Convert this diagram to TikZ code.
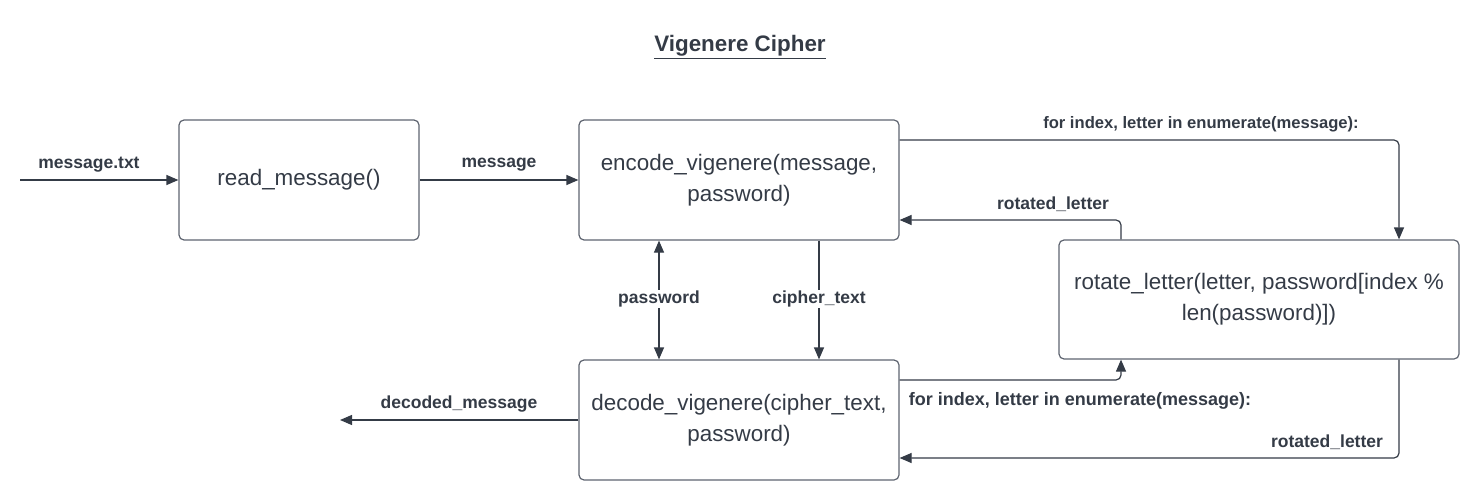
\documentclass[tikz,border=0pt]{standalone}
\usepackage{fontspec}
\setmainfont{Liberation Sans}
\usetikzlibrary{arrows.meta,calc}
\definecolor{ink}{HTML}{343B46}
\definecolor{edge}{HTML}{5E6470}
\tikzset{
  box/.style={draw=edge, line width=1.2pt, rounded corners=5pt, align=center, text=ink,
    font=\fontsize{22.4}{31}\selectfont, inner sep=0pt},
  arr/.style={draw=ink, line width=1.2pt, rounded corners=5pt, -{Triangle[length=12pt,width=10pt]}},
  lbl/.style={text=ink, font=\fontsize{17.5}{20}\selectfont\bfseries, inner sep=1pt},
}
\begin{document}
\begin{tikzpicture}[x=1pt,y=-1pt]
\useasboundingbox (0,0) rectangle (1480,500);
\node[text=ink, font=\fontsize{22.4}{26}\selectfont\bfseries] (title) at (740,47) {\underline{Vigenere Cipher}};
\node[box, minimum width=240pt, minimum height=120pt] (read) at (299,180) {read\_message()};
\node[box, minimum width=320pt, minimum height=120pt] (enc) at (739,180) {encode\_vigenere(message,\\password)};
\node[box, minimum width=400pt, minimum height=119pt] (rot) at (1259,299.5) {rotate\_letter(letter, password[index \%\\len(password)])};
\node[box, minimum width=320pt, minimum height=120pt] (dec) at (739,420) {decode\_vigenere(cipher\_text,\\password)};
\coordinate (src) at (20,180);
\coordinate (sink) at (340,420);
\draw[arr] (src) -- (read.west);
\draw[arr] (read.east) -- (enc.west);
\draw[arr] (enc.east |- 0,140) -| ([xshift=140pt]rot.north);
\draw[arr] ([xshift=-138pt]rot.north) |- (enc.east |- 0,220);
\draw[arr, {Triangle[length=12pt,width=10pt]}-{Triangle[length=12pt,width=10pt]}] ([xshift=-80pt]enc.south) -- ([xshift=-80pt]dec.north);
\draw[arr] ([xshift=80pt]enc.south) -- ([xshift=80pt]dec.north);
\draw[arr] (dec.west) -- (sink);
\draw[arr] (dec.east |- 0,380) -| ([xshift=-138pt]rot.south);
\draw[arr] ([xshift=140pt]rot.south) |- (dec.east |- 0,458);
\node[lbl] (l1) at (89,165) {message.txt};
\node[lbl] (l2) at (499,165) {message};
\node[lbl, font=\fontsize{16.6}{20}\selectfont\bfseries] (l3) at (1201,124) {for index, letter in enumerate(message):};
\node[lbl] (l4) at (1053,204) {rotated\_letter};
\node[lbl, fill=white] (l5) at (659,299) {password};
\node[lbl, fill=white] (l6) at (819,299) {cipher\_text};
\node[lbl] (l7) at (459,404) {decoded\_message};
\node[lbl, font=\fontsize{18}{20}\selectfont\bfseries] (l8) at (1080,401) {for index, letter in enumerate(message):};
\node[lbl] (l9) at (1327,442) {rotated\_letter};
\end{tikzpicture}
\end{document}
